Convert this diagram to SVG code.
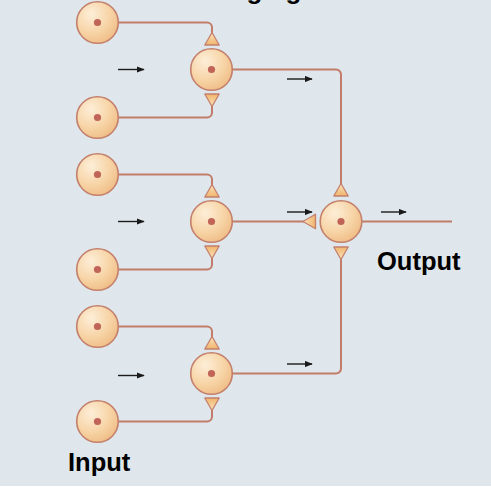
<svg xmlns="http://www.w3.org/2000/svg" width="491" height="500" viewBox="0 0 491 500">
<defs>
<radialGradient id="cellG" cx="0.35" cy="0.3" r="0.75">
<stop offset="0" stop-color="#fdeed8"/>
<stop offset="0.6" stop-color="#f7d4a6"/>
<stop offset="1" stop-color="#efbd86"/>
</radialGradient>
<linearGradient id="triG" x1="0" y1="0" x2="0" y2="1">
<stop offset="0" stop-color="#fbe4c0"/>
<stop offset="1" stop-color="#f0b56c"/>
</linearGradient>
<marker id="ah" viewBox="0 0 10 8" refX="9" refY="4" markerWidth="8" markerHeight="6.4" markerUnits="userSpaceOnUse" orient="auto">
<path d="M0,0 L10,4 L0,8 Z" fill="#1a1a1a"/>
</marker>
<g id="cell">
<circle r="20.8" fill="url(#cellG)" stroke="#c4806c" stroke-width="1.6"/>
<circle r="3.6" fill="#bf6457"/>
</g>
<polygon id="triUp" points="0,-6.5 7.2,6 -7.2,6" fill="url(#triG)" stroke="#c4806c" stroke-width="1.3" stroke-linejoin="round"/>
</defs>
<style>
.ax{stroke:#c27c69;stroke-width:2;fill:none;}
.arr{stroke:#1a1a1a;stroke-width:1.4;fill:none;marker-end:url(#ah);}
.lbl{font-family:"Liberation Sans",Arial,sans-serif;font-weight:bold;fill:#000;}
</style>
<rect x="0" y="0" width="491" height="486" fill="#dfe6ec"/>
<rect x="0" y="486" width="491" height="14" fill="#ffffff"/>
<text class="lbl" x="157" y="-1" font-size="26">Converging</text>

<g id="connectors">
<path class="ax" d="M118.5,22.5 H207 A5,5 0 0 1 212,27.5 V33"/>
<path class="ax" d="M212,106 V112.5 A5,5 0 0 1 207,117.5 H118.5"/>
<path class="ax" d="M118.5,174.5 H207 A5,5 0 0 1 212,179.5 V185"/>
<path class="ax" d="M212,258 V264.5 A5,5 0 0 1 207,269.5 H118.5"/>
<path class="ax" d="M118.5,326.5 H207 A5,5 0 0 1 212,331.5 V337"/>
<path class="ax" d="M212,410 V416.5 A5,5 0 0 1 207,421.5 H118.5"/>
<path class="ax" d="M232.5,69.5 H336 A5,5 0 0 1 341,74.5 V185"/>
<path class="ax" d="M232.5,221.5 H304"/>
<path class="ax" d="M341,258 V368.5 A5,5 0 0 1 336,373.5 H232.5"/>
<path class="ax" d="M362,221.5 H452"/>
<use href="#triUp" transform="translate(212,39)"/>
<use href="#triUp" transform="translate(212,100) rotate(180)"/>
<use href="#triUp" transform="translate(212,191)"/>
<use href="#triUp" transform="translate(212,252) rotate(180)"/>
<use href="#triUp" transform="translate(212,343)"/>
<use href="#triUp" transform="translate(212,404) rotate(180)"/>
<use href="#triUp" transform="translate(341,190)"/>
<use href="#triUp" transform="translate(341,253) rotate(180)"/>
<use href="#triUp" transform="translate(309.5,221.5) rotate(-90)"/>
<path class="arr" d="M118,69.5 H144"/>
<path class="arr" d="M118,221.5 H144"/>
<path class="arr" d="M118,375.5 H144"/>
<path class="arr" d="M287,79 H312"/>
<path class="arr" d="M287,212 H312"/>
<path class="arr" d="M381,212 H406"/>
<path class="arr" d="M287,364 H312"/>
</g>

<g id="in1"><use href="#cell" x="97.5" y="22.5"/></g>
<g id="in2"><use href="#cell" x="97.5" y="117.5"/></g>
<g id="in3"><use href="#cell" x="97.5" y="174.5"/></g>
<g id="in4"><use href="#cell" x="97.5" y="269.5"/></g>
<g id="in5"><use href="#cell" x="97.5" y="326.5"/></g>
<g id="in6"><use href="#cell" x="97.5" y="421.5"/></g>
<g id="mid1"><use href="#cell" x="211.5" y="69.5"/></g>
<g id="mid2"><use href="#cell" x="211.5" y="221.5"/></g>
<g id="mid3"><use href="#cell" x="211.5" y="373.5"/></g>
<g id="out"><use href="#cell" x="341" y="221.5"/></g>

<text class="lbl" x="377" y="270" font-size="25.5">Output</text>
<text class="lbl" x="68" y="471" font-size="25.5">Input</text>
</svg>
